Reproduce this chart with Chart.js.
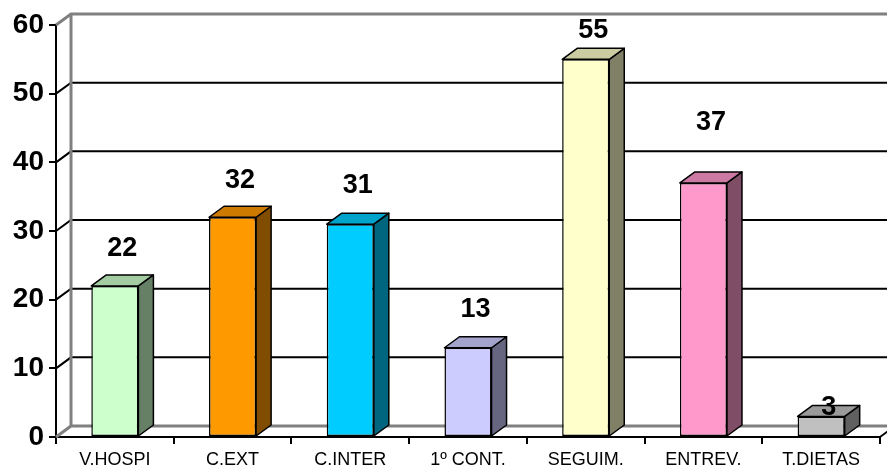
<!DOCTYPE html>
<html>
<head>
<meta charset="utf-8">
<script src="https://cdn.jsdelivr.net/npm/chart.js@4.4.1/dist/chart.umd.min.js"></script>
<style>
  html, body { margin: 0; padding: 0; background: #fff; }
  #wrap { width: 887px; height: 469px; }
</style>
</head>
<body>
<div id="wrap"><canvas id="myChart" width="887" height="469"></canvas></div>
<script>
// data
const categories = ["V.HOSPI", "C.EXT", "C.INTER", "1º CONT.", "SEGUIM.", "ENTREV.", "T.DIETAS"];
const values = [22, 32, 31, 13, 55, 37, 3];
const frontColors = ["#CCFFCC", "#FF9900", "#00CCFF", "#CCCCFF", "#FFFFCC", "#FF99CC", "#C0C0C0"];
const yTicks = [0, 10, 20, 30, 40, 50, 60];

// 3d depth of the box
const DX = 15, DY = -11;

function shade(hex, f) {
  const n = parseInt(hex.slice(1), 16);
  const r = Math.round(((n >> 16) & 255) * f);
  const g = Math.round(((n >> 8) & 255) * f);
  const b = Math.round((n & 255) * f);
  return `rgb(${r},${g},${b})`;
}

// back wall, floor and gridlines
const wallPlugin = {
  id: "wall",
  beforeDatasetsDraw(chart) {
    const ctx = chart.ctx;
    const y = chart.scales.y;
    const left = chart.chartArea.left, right = chart.chartArea.right;
    ctx.save();
    ctx.lineCap = "butt";
    yTicks.forEach(v => {
      const py = y.getPixelForValue(v);
      const grey = v === 0 || v === 60;
      ctx.strokeStyle = grey ? "#808080" : "#000";
      ctx.lineWidth = grey ? 3 : 2;
      ctx.beginPath();
      ctx.moveTo(left, py);
      ctx.lineTo(left + DX, py + DY);
      ctx.lineTo(v === 0 ? right + DX : chart.width, py + DY);
      ctx.stroke();
    });
    // back left edge
    ctx.strokeStyle = "#808080";
    ctx.lineWidth = 3;
    ctx.beginPath();
    ctx.moveTo(left + DX, y.getPixelForValue(60) + DY);
    ctx.lineTo(left + DX, y.getPixelForValue(0) + DY);
    ctx.stroke();
    // floor right edge
    ctx.strokeStyle = "#000";
    ctx.lineWidth = 2;
    ctx.beginPath();
    ctx.moveTo(right, y.getPixelForValue(0));
    ctx.lineTo(right + DX, y.getPixelForValue(0) + DY);
    ctx.stroke();
    ctx.restore();
  }
};

// side and top faces, then value labels
const boxPlugin = {
  id: "box",
  afterDatasetsDraw(chart, args, opts) {
    const ctx = chart.ctx;
    const meta = chart.getDatasetMeta(0);
    ctx.save();
    ctx.lineWidth = 1.5;
    ctx.strokeStyle = "#000";
    ctx.lineJoin = "round";
    meta.data.forEach((bar, i) => {
      const w = bar.width;
      const l = bar.x - w / 2, r = bar.x + w / 2;
      const top = bar.y, base = bar.base;
      // side
      ctx.fillStyle = shade(frontColors[i], 0.5);
      ctx.beginPath();
      ctx.moveTo(r, base);
      ctx.lineTo(r + DX, base + DY);
      ctx.lineTo(r + DX, top + DY);
      ctx.lineTo(r, top);
      ctx.closePath();
      ctx.fill();
      ctx.stroke();
      // top
      ctx.fillStyle = shade(frontColors[i], 0.8);
      ctx.beginPath();
      ctx.moveTo(l, top);
      ctx.lineTo(l + DX, top + DY);
      ctx.lineTo(r + DX, top + DY);
      ctx.lineTo(r, top);
      ctx.closePath();
      ctx.fill();
      ctx.stroke();
    });
    ctx.fillStyle = "#000";
    ctx.font = "bold 27px 'Liberation Sans', Arial, sans-serif";
    ctx.textAlign = "center";
    ctx.textBaseline = "middle";
    meta.data.forEach((bar, i) => {
      ctx.fillText(String(values[i]), bar.x + DX / 2, bar.y - opts.lift[i]);
    });
    ctx.restore();
  }
};

const config = {
  type: "bar",
  data: {
    labels: categories,
    datasets: [{
      data: values,
      backgroundColor: frontColors,
      borderColor: "#000",
      borderWidth: 1.5,
      borderSkipped: false,
      categoryPercentage: 1,
      barPercentage: 0.4
    }]
  },
  options: {
    responsive: false,
    animation: false,
    layout: { padding: { top: 25, right: 7, left: 0, bottom: 0 } },
    plugins: {
      legend: { display: false },
      tooltip: { enabled: false },
      box: { lift: [37, 37, 39, 38, 29, 60, 9] }
    },
    scales: {
      x: {
        afterFit(scale) { scale.height = 32; },
        grid: {
          offset: true,
          drawOnChartArea: false,
          drawTicks: true,
          tickLength: 7,
          color: "#000",
          lineWidth: 2
        },
        border: { display: true, color: "#000", width: 2 },
        ticks: {
          color: "#000",
          padding: 5,
          font: { family: "'Liberation Sans', Arial, sans-serif", size: 18 }
        }
      },
      y: {
        min: 0,
        max: 60,
        afterFit(scale) { scale.width = 56; },
        grid: {
          drawOnChartArea: false,
          drawTicks: true,
          tickLength: 7,
          color: "#000",
          lineWidth: 2
        },
        border: { display: true, color: "#000", width: 2 },
        ticks: {
          stepSize: 10,
          color: "#000",
          padding: 5,
          font: { family: "'Liberation Sans', Arial, sans-serif", size: 28, weight: "bold" }
        }
      }
    }
  },
  plugins: [wallPlugin, boxPlugin]
};

const myChart = new Chart(document.getElementById("myChart"), config);
</script>
</body>
</html>
